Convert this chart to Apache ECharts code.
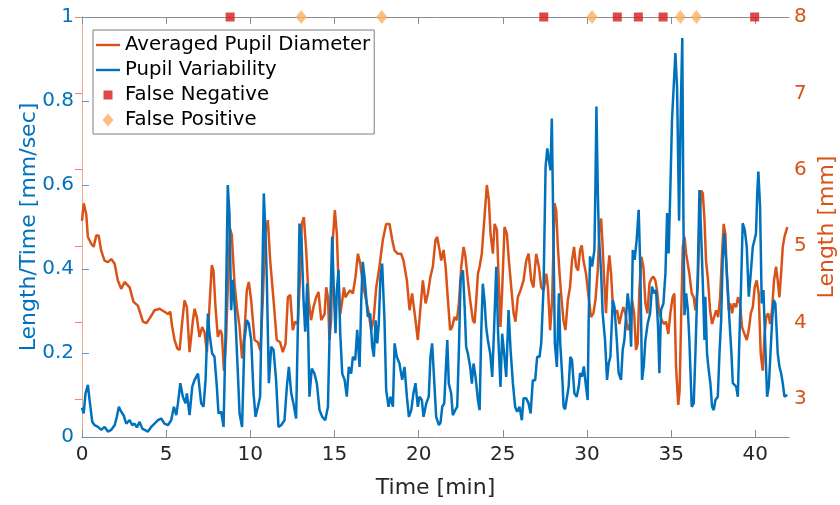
<!DOCTYPE html>
<html><head><meta charset="utf-8">
<script src="https://cdn.jsdelivr.net/npm/echarts@6/dist/echarts.min.js"></script>
<style>html,body{margin:0;padding:0;background:#fff}#c{width:840px;height:505px}</style>
</head><body><div id="c"></div>
<script>
// [time (min), diameter (mm)]
const diameter = [[0.0,5.33],[0.1,5.56],[0.25,5.42],[0.35,5.12],[0.55,5.03],[0.69,4.99],[0.85,5.14],[0.99,5.14],[1.14,4.94],[1.34,4.81],[1.54,4.79],[1.74,4.83],[1.94,4.77],[2.13,4.55],[2.33,4.44],[2.53,4.53],[2.83,4.46],[3.06,4.27],[3.32,4.22],[3.62,4.01],[3.82,3.99],[4.01,4.05],[4.31,4.16],[4.61,4.18],[4.90,4.14],[5.10,4.11],[5.24,4.14],[5.36,3.94],[5.50,3.77],[5.66,3.66],[5.80,3.64],[5.94,3.98],[6.09,4.29],[6.23,4.20],[6.39,3.61],[6.59,4.03],[6.69,4.18],[6.82,4.07],[6.98,3.81],[7.14,3.94],[7.28,3.87],[7.42,3.61],[7.57,4.20],[7.71,4.75],[7.81,4.68],[7.93,4.20],[8.07,3.81],[8.21,3.90],[8.31,3.85],[8.43,3.37],[8.56,3.77],[8.70,4.73],[8.80,5.23],[8.90,5.14],[9.06,4.51],[9.20,4.20],[9.36,3.94],[9.51,3.53],[9.65,3.85],[9.79,4.42],[9.91,4.53],[10.05,4.29],[10.25,3.77],[10.45,3.74],[10.60,3.63],[10.74,4.29],[10.88,5.16],[11.04,5.34],[11.18,4.81],[11.38,4.29],[11.57,3.77],[11.77,3.74],[11.93,3.61],[12.09,3.72],[12.23,4.33],[12.37,4.36],[12.52,3.90],[12.66,4.01],[12.82,3.98],[12.96,4.64],[13.06,5.29],[13.18,5.38],[13.32,4.94],[13.47,4.29],[13.61,4.03],[13.75,4.20],[13.91,4.33],[14.05,4.40],[14.21,4.03],[14.41,4.11],[14.51,4.46],[14.61,4.33],[14.70,3.77],[14.80,4.03],[14.90,5.08],[15.02,5.47],[15.14,5.16],[15.24,4.51],[15.34,4.11],[15.44,4.25],[15.56,4.46],[15.65,4.33],[15.79,4.38],[15.93,4.42],[16.09,4.38],[16.25,4.60],[16.39,4.90],[16.53,4.77],[16.68,4.51],[16.88,4.29],[17.04,4.11],[17.18,3.90],[17.32,4.03],[17.48,4.46],[17.67,4.73],[17.87,5.08],[18.07,5.29],[18.27,5.29],[18.43,5.08],[18.57,4.94],[18.76,4.90],[18.96,4.90],[19.10,4.81],[19.30,4.55],[19.46,4.16],[19.61,4.38],[19.79,4.07],[19.95,3.77],[20.11,4.20],[20.25,4.55],[20.41,4.25],[20.55,4.38],[20.70,4.60],[20.84,4.73],[21.00,5.08],[21.10,5.12],[21.24,4.95],[21.34,4.81],[21.48,4.95],[21.60,4.73],[21.74,4.29],[21.87,3.90],[21.99,3.94],[22.13,4.07],[22.27,4.03],[22.39,4.25],[22.53,4.73],[22.67,4.99],[22.78,4.86],[22.92,4.55],[23.06,4.29],[23.22,4.03],[23.32,3.99],[23.42,4.29],[23.52,4.64],[23.62,4.73],[23.75,4.90],[23.91,5.38],[24.05,5.80],[24.17,5.60],[24.27,5.16],[24.41,4.90],[24.51,5.29],[24.65,5.21],[24.76,4.51],[24.86,3.94],[24.96,4.42],[25.10,5.25],[25.24,5.16],[25.36,4.81],[25.50,4.46],[25.64,4.12],[25.75,4.01],[25.89,4.33],[26.05,4.42],[26.23,4.55],[26.39,4.81],[26.53,4.90],[26.69,4.55],[26.82,4.46],[26.98,4.90],[27.14,4.73],[27.28,4.46],[27.42,4.42],[27.58,4.64],[27.68,4.46],[27.81,3.90],[27.93,4.29],[28.07,5.56],[28.17,5.47],[28.27,4.99],[28.37,4.64],[28.46,4.38],[28.60,4.03],[28.72,3.90],[28.86,4.29],[28.99,4.46],[29.11,4.81],[29.23,4.99],[29.35,4.73],[29.47,4.68],[29.59,4.95],[29.69,5.01],[29.79,4.81],[29.94,4.64],[30.10,4.33],[30.24,4.07],[30.38,4.12],[30.50,4.29],[30.64,4.68],[30.74,5.25],[30.84,5.36],[30.93,4.99],[31.03,4.51],[31.13,4.12],[31.23,4.64],[31.33,4.88],[31.43,4.64],[31.53,4.25],[31.67,4.12],[31.79,4.16],[31.92,3.98],[32.06,4.12],[32.16,4.20],[32.28,4.12],[32.42,3.90],[32.56,3.98],[32.68,4.29],[32.80,4.12],[32.91,3.64],[33.01,3.72],[33.11,4.42],[33.23,4.86],[33.35,4.73],[33.47,4.25],[33.59,4.12],[33.71,4.51],[33.82,4.57],[33.94,4.60],[34.06,4.55],[34.16,4.42],[34.30,4.12],[34.44,4.03],[34.56,3.98],[34.70,4.01],[34.83,3.85],[34.95,4.12],[35.09,4.33],[35.19,4.38],[35.29,3.42],[35.42,2.92],[35.50,3.10],[35.59,4.03],[35.69,4.99],[35.79,5.12],[35.89,4.90],[35.99,4.90],[36.08,4.64],[36.22,4.38],[36.34,4.33],[36.44,4.16],[36.58,4.46],[36.68,5.25],[36.78,5.73],[36.88,5.69],[36.98,5.34],[37.07,4.81],[37.19,4.55],[37.31,4.16],[37.43,3.98],[37.55,4.07],[37.67,4.16],[37.79,4.07],[37.91,4.33],[38.02,4.90],[38.12,5.29],[38.22,5.16],[38.32,4.55],[38.42,4.16],[38.52,4.25],[38.62,4.12],[38.72,4.25],[38.86,4.20],[38.97,4.33],[39.09,4.25],[39.21,3.94],[39.35,3.85],[39.49,3.77],[39.61,3.90],[39.73,4.12],[39.85,4.20],[39.96,4.46],[40.08,4.55],[40.20,4.38],[40.32,3.59],[40.44,3.37],[40.54,3.81],[40.64,4.07],[40.76,4.12],[40.88,3.98],[40.99,4.16],[41.11,4.55],[41.23,4.73],[41.33,4.55],[41.43,4.33],[41.53,4.64],[41.63,4.99],[41.73,5.12],[41.90,5.25]];

// [time (min), variability (mm/sec)]
const variability = [[0.0,0.07],[0.1,0.056],[0.21,0.104],[0.35,0.124],[0.45,0.088],[0.61,0.036],[0.75,0.028],[0.95,0.024],[1.14,0.017],[1.34,0.024],[1.54,0.013],[1.74,0.017],[1.94,0.028],[2.07,0.048],[2.19,0.072],[2.33,0.060],[2.47,0.052],[2.63,0.032],[2.83,0.040],[2.99,0.028],[3.12,0.032],[3.26,0.023],[3.42,0.036],[3.58,0.020],[3.72,0.017],[3.92,0.013],[4.11,0.024],[4.31,0.032],[4.51,0.040],[4.71,0.044],[4.90,0.032],[5.10,0.028],[5.30,0.040],[5.46,0.072],[5.60,0.052],[5.70,0.080],[5.84,0.128],[5.99,0.096],[6.15,0.080],[6.23,0.104],[6.39,0.052],[6.55,0.120],[6.69,0.136],[6.89,0.151],[7.08,0.080],[7.22,0.072],[7.34,0.136],[7.48,0.294],[7.57,0.247],[7.73,0.199],[7.87,0.191],[8.01,0.120],[8.11,0.056],[8.27,0.060],[8.41,0.024],[8.52,0.231],[8.66,0.600],[8.76,0.532],[8.86,0.302],[8.96,0.374],[9.10,0.294],[9.26,0.151],[9.36,0.056],[9.51,0.024],[9.65,0.231],[9.79,0.278],[9.91,0.270],[10.05,0.231],[10.19,0.104],[10.31,0.048],[10.45,0.072],[10.58,0.096],[10.70,0.350],[10.80,0.580],[10.90,0.485],[10.98,0.374],[11.10,0.128],[11.24,0.215],[11.38,0.207],[11.53,0.136],[11.67,0.024],[11.83,0.028],[12.03,0.040],[12.17,0.120],[12.29,0.167],[12.43,0.104],[12.56,0.080],[12.72,0.044],[12.82,0.255],[12.92,0.508],[13.04,0.469],[13.16,0.326],[13.26,0.251],[13.38,0.366],[13.51,0.096],[13.65,0.163],[13.81,0.151],[13.95,0.128],[14.11,0.064],[14.27,0.048],[14.45,0.040],[14.61,0.072],[14.70,0.231],[14.86,0.477],[14.96,0.350],[15.06,0.247],[15.14,0.350],[15.24,0.398],[15.34,0.247],[15.46,0.151],[15.60,0.136],[15.73,0.096],[15.85,0.167],[15.99,0.151],[16.09,0.191],[16.23,0.183],[16.35,0.255],[16.49,0.167],[16.59,0.326],[16.68,0.417],[16.78,0.382],[16.88,0.334],[16.98,0.286],[17.12,0.294],[17.24,0.215],[17.34,0.191],[17.44,0.278],[17.54,0.223],[17.63,0.270],[17.73,0.382],[17.83,0.413],[17.97,0.278],[18.07,0.112],[18.21,0.072],[18.33,0.096],[18.47,0.072],[18.57,0.223],[18.70,0.191],[18.86,0.175],[19.02,0.136],[19.16,0.167],[19.30,0.096],[19.42,0.048],[19.56,0.064],[19.69,0.104],[19.81,0.128],[19.95,0.072],[20.05,0.096],[20.19,0.088],[20.29,0.048],[20.45,0.080],[20.60,0.096],[20.70,0.191],[20.80,0.223],[20.90,0.151],[21.04,0.048],[21.20,0.028],[21.30,0.035],[21.40,0.072],[21.52,0.080],[21.60,0.151],[21.70,0.231],[21.79,0.127],[21.93,0.104],[22.03,0.052],[22.17,0.064],[22.29,0.072],[22.39,0.207],[22.49,0.373],[22.63,0.397],[22.73,0.310],[22.82,0.215],[22.92,0.199],[23.06,0.167],[23.16,0.127],[23.26,0.175],[23.38,0.143],[23.52,0.088],[23.62,0.064],[23.72,0.254],[23.81,0.365],[23.91,0.326],[24.01,0.262],[24.11,0.231],[24.25,0.199],[24.37,0.143],[24.47,0.246],[24.61,0.405],[24.72,0.246],[24.86,0.119],[24.96,0.246],[25.06,0.207],[25.20,0.143],[25.34,0.302],[25.46,0.207],[25.60,0.127],[25.73,0.072],[25.85,0.060],[25.99,0.072],[26.13,0.040],[26.23,0.092],[26.39,0.092],[26.53,0.080],[26.65,0.056],[26.78,0.135],[26.92,0.135],[27.04,0.191],[27.18,0.191],[27.28,0.223],[27.42,0.358],[27.54,0.643],[27.64,0.687],[27.73,0.683],[27.83,0.635],[27.91,0.758],[28.01,0.469],[28.09,0.223],[28.21,0.167],[28.33,0.342],[28.41,0.223],[28.53,0.143],[28.61,0.072],[28.70,0.066],[28.80,0.064],[28.91,0.120],[29.01,0.191],[29.11,0.183],[29.25,0.104],[29.39,0.096],[29.51,0.120],[29.59,0.152],[29.71,0.144],[29.81,0.168],[29.94,0.120],[30.04,0.088],[30.10,0.279],[30.18,0.430],[30.30,0.406],[30.44,0.445],[30.50,0.596],[30.56,0.787],[30.64,0.588],[30.70,0.485],[30.84,0.390],[30.93,0.295],[31.07,0.231],[31.19,0.136],[31.29,0.176],[31.39,0.191],[31.53,0.326],[31.63,0.310],[31.77,0.231],[31.88,0.152],[32.02,0.136],[32.12,0.207],[32.22,0.231],[32.32,0.287],[32.42,0.342],[32.52,0.302],[32.62,0.215],[32.72,0.445],[32.83,0.422],[32.95,0.469],[33.07,0.541],[33.17,0.398],[33.27,0.136],[33.37,0.168],[33.47,0.231],[33.61,0.271],[33.75,0.295],[33.86,0.358],[33.98,0.342],[34.10,0.350],[34.22,0.263],[34.30,0.152],[34.40,0.303],[34.54,0.318],[34.66,0.390],[34.76,0.533],[34.85,0.437],[34.95,0.588],[35.05,0.755],[35.15,0.834],[35.25,0.914],[35.35,0.834],[35.47,0.515],[35.57,0.780],[35.66,0.950],[35.73,0.517],[35.79,0.290],[35.89,0.342],[35.99,0.303],[36.08,0.231],[36.22,0.072],[36.34,0.080],[36.44,0.199],[36.58,0.390],[36.68,0.588],[36.78,0.485],[36.88,0.366],[36.98,0.231],[37.03,0.334],[37.13,0.199],[37.23,0.160],[37.33,0.128],[37.43,0.072],[37.53,0.064],[37.63,0.088],[37.77,0.096],[37.87,0.199],[37.97,0.279],[38.06,0.422],[38.16,0.485],[38.26,0.485],[38.36,0.358],[38.46,0.279],[38.58,0.199],[38.66,0.128],[38.76,0.128],[38.86,0.120],[38.96,0.096],[39.05,0.231],[39.15,0.358],[39.25,0.509],[39.37,0.493],[39.49,0.453],[39.61,0.334],[39.73,0.390],[39.85,0.453],[39.95,0.469],[40.04,0.485],[40.12,0.588],[40.18,0.632],[40.28,0.549],[40.38,0.318],[40.48,0.350],[40.60,0.207],[40.70,0.096],[40.80,0.120],[40.90,0.199],[41.00,0.279],[41.09,0.326],[41.19,0.318],[41.33,0.199],[41.43,0.168],[41.53,0.152],[41.63,0.128],[41.73,0.096],[41.90,0.100]];

const falseNegTimes = [8.80, 27.43, 31.80, 33.05, 34.52, 39.96];
const falsePosTimes = [13.02, 17.81, 30.30, 35.55, 36.50];
const markerLevel = 1;
const xTicks = [0, 5, 10, 15, 20, 25, 30, 35, 40];
const rightTicks = [3, 4, 5, 6, 7, 8];

const BLUE = '#0072BD', ORANGE = '#D95319', RED = '#D7191C', LIGHT = '#FDAE61';
const FONT = 'DejaVu Sans';
const gray = '#8c8c8c';
const lineIcon = 'path://M0,0M24,14M0,5.8L24,5.8L24,8.2L0,8.2Z';

const chart = echarts.init(document.getElementById('c'), null, {renderer: 'canvas'});
const xCommon = {
  type: 'value', min: 0, max: 42,
  axisLine: {show: true, onZero: false, lineStyle: {color: gray, width: 1}},
  axisTick: {show: true, inside: true, length: 7, customValues: xTicks, lineStyle: {color: gray}},
  splitLine: {show: false}
};
chart.setOption({
  animation: false,
  textStyle: {fontFamily: FONT},
  grid: {left: 82, right: 51, top: 17, bottom: 68, containLabel: false, outerBoundsMode: 'none'},
  legend: {
    left: 93, top: 30, orient: 'vertical',
    backgroundColor: '#fff', borderColor: '#7f7f7f', borderWidth: 1,
    padding: [4, 4, 3, 3], itemGap: 3, itemWidth: 24, itemHeight: 14,
    textStyle: {fontSize: 19.7, fontFamily: FONT, color: '#000', lineHeight: 22},
    data: [
      {name: 'Averaged Pupil Diameter', icon: lineIcon},
      {name: 'Pupil Variability', icon: lineIcon},
      {name: 'False Negative', icon: 'path://M0,0M24,14M7.5,2.5L16.5,2.5L16.5,11.5L7.5,11.5Z'},
      {name: 'False Positive', icon: 'path://M0,0M24,14M12,0.5L17.5,7L12,13.5L6.5,7Z'}
    ]
  },
  xAxis: [
    Object.assign({}, xCommon, {
      position: 'bottom',
      axisLabel: {customValues: xTicks, color: '#262626', fontSize: 20, fontFamily: FONT, margin: 8},
      name: 'Time [min]', nameLocation: 'middle', nameGap: 40,
      nameTextStyle: {fontSize: 22, color: '#262626', fontFamily: FONT}
    }),
    Object.assign({}, xCommon, {position: 'top', axisLabel: {show: false}})
  ],
  yAxis: [
    {
      type: 'value', min: 0, max: 1, interval: 0.2, position: 'left',
      axisLine: {show: true, lineStyle: {color: '#7fb8de', width: 1}},
      axisTick: {show: true, inside: true, length: 7, lineStyle: {color: '#4d9bd0'}},
      axisLabel: {color: BLUE, fontSize: 20, fontFamily: FONT, margin: 8},
      splitLine: {show: false},
      name: 'Length/Time [mm/sec]', nameLocation: 'middle', nameGap: 42, nameMoveOverlap: false,
      nameTextStyle: {color: BLUE, fontSize: 22, fontFamily: FONT}
    },
    {
      type: 'value', min: 2.5, max: 8, position: 'right',
      axisLine: {show: true, lineStyle: {color: '#eda98b', width: 1}},
      axisTick: {show: true, inside: true, length: 7, customValues: rightTicks, lineStyle: {color: '#e58a63'}},
      axisLabel: {customValues: rightTicks, color: ORANGE, fontSize: 20, fontFamily: FONT, margin: 5},
      splitLine: {show: false},
      name: 'Length [mm]', nameLocation: 'middle', nameGap: 27, nameMoveOverlap: false,
      nameTextStyle: {color: ORANGE, fontSize: 22, fontFamily: FONT}
    }
  ],
  series: [
    {
      name: 'Averaged Pupil Diameter', type: 'line', xAxisIndex: 0, yAxisIndex: 1,
      data: diameter, symbol: 'none', showSymbol: false,
      lineStyle: {color: ORANGE, width: 2.5}, itemStyle: {color: ORANGE}, z: 2
    },
    {
      name: 'Pupil Variability', type: 'line', xAxisIndex: 0, yAxisIndex: 0,
      data: variability, symbol: 'none', showSymbol: false,
      lineStyle: {color: BLUE, width: 2.5}, itemStyle: {color: BLUE}, z: 3
    },
    {
      name: 'False Negative', type: 'scatter', xAxisIndex: 0, yAxisIndex: 0,
      data: falseNegTimes.map(t => [t, markerLevel]), symbol: 'rect', symbolSize: 9,
      itemStyle: {color: RED}, clip: false, z: 4
    },
    {
      name: 'False Positive', type: 'scatter', xAxisIndex: 0, yAxisIndex: 0,
      data: falsePosTimes.map(t => [t, markerLevel]), symbol: 'diamond', symbolSize: [11, 14],
      itemStyle: {color: LIGHT}, clip: false, z: 4
    }
  ]
});
</script>
</body></html>
